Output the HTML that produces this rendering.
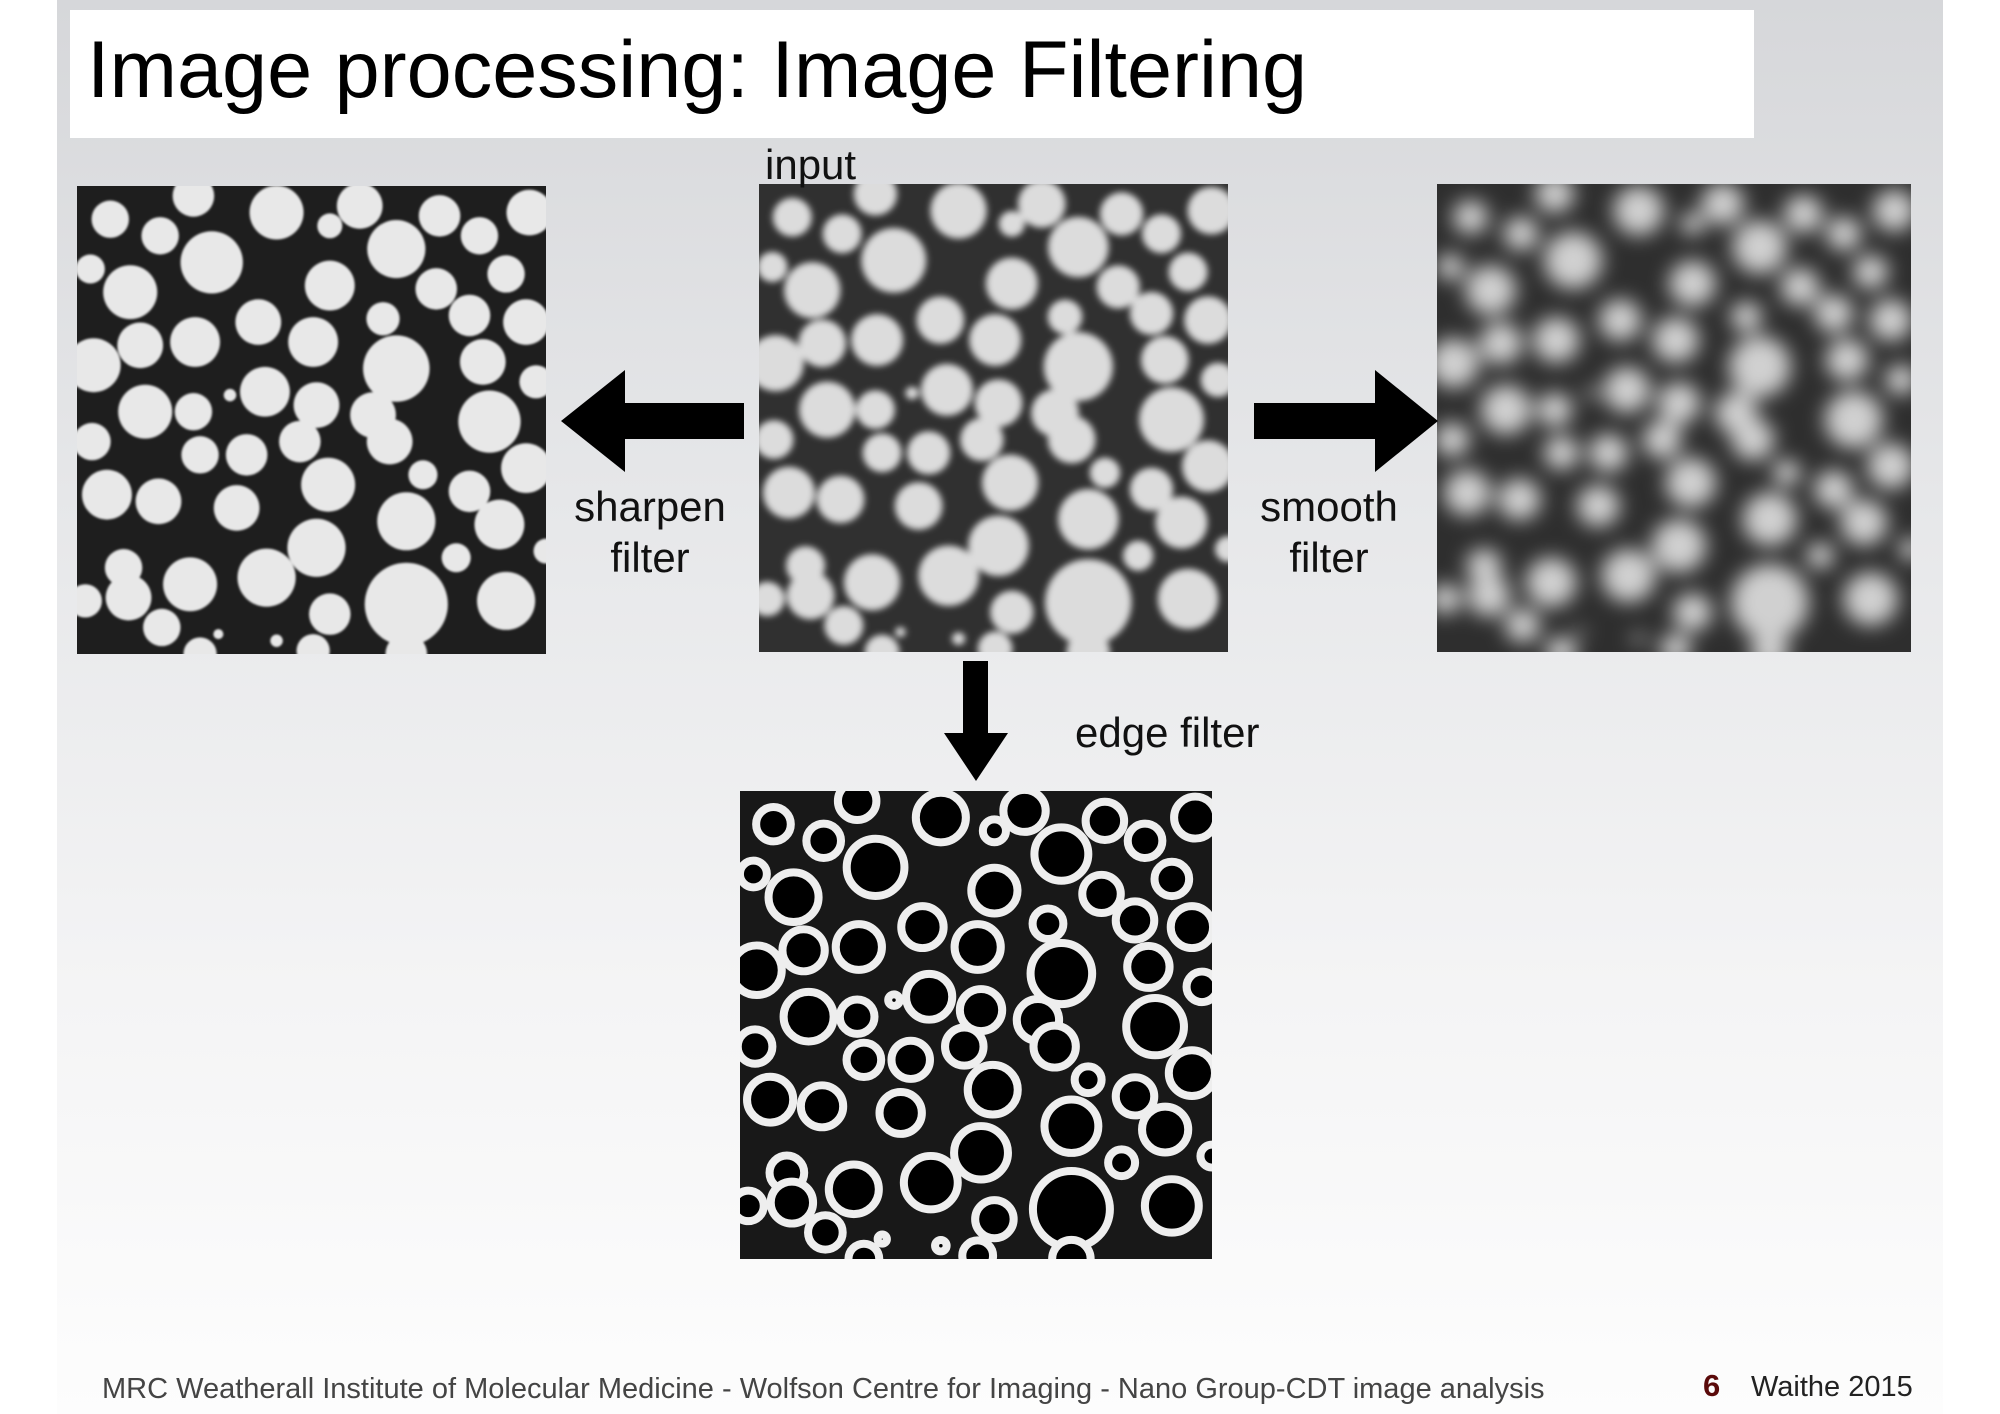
<!DOCTYPE html>
<html><head><meta charset="utf-8">
<style>
html,body{margin:0;padding:0;width:2000px;height:1414px;overflow:hidden;background:#fff;font-family:"Liberation Sans",sans-serif;}
#slide{position:absolute;left:57px;top:0;width:1886px;height:1414px;background:linear-gradient(#d6d7da 0%,#e6e7e9 35%,#f4f4f5 70%,#fdfdfd 100%);}
#title-box{position:absolute;left:70px;top:10px;width:1684px;height:128px;background:#fff;}
#title{position:absolute;left:87px;top:24px;font-size:81px;color:#000;white-space:nowrap;}
.lbl{position:absolute;font-size:42px;color:#111;white-space:nowrap;line-height:51px;}
svg.img{position:absolute;}
.foot{position:absolute;font-size:29px;color:#444;white-space:nowrap;}
</style></head><body>
<div id="slide"></div>
<div id="title-box"></div>
<div id="title">Image processing: Image Filtering</div>

<svg class="img" id="sharpen" style="left:77px;top:186px;width:469px;height:468px" viewBox="0 0 1410 1410" preserveAspectRatio="none"></svg>
<svg class="img" id="input" style="left:759px;top:184px;width:469px;height:468px" viewBox="0 0 1410 1410" preserveAspectRatio="none"></svg>
<svg class="img" id="smooth" style="left:1437px;top:184px;width:474px;height:468px" viewBox="0 0 1410 1410" preserveAspectRatio="none"></svg>
<svg class="img" id="edge" style="left:740px;top:791px;width:472px;height:468px" viewBox="0 0 1410 1410" preserveAspectRatio="none"></svg>

<svg style="position:absolute;left:0;top:0" width="2000" height="1414">
<polygon points="744,403 625,403 625,370 561,421 625,472 625,439 744,439" fill="#000"/>
<polygon points="1254,403 1375,403 1375,370 1438,421 1375,472 1375,439 1254,439" fill="#000"/>
<polygon points="963,661 988,661 988,733 1008,733 976,781 944,733 963,733" fill="#000"/>
</svg>

<div class="lbl" style="left:765px;top:139px">input</div>
<div class="lbl" style="left:550px;top:481px;width:200px;text-align:center">sharpen<br>filter</div>
<div class="lbl" style="left:1229px;top:481px;width:200px;text-align:center">smooth<br>filter</div>
<div class="lbl" style="left:1075px;top:707px">edge filter</div>

<div class="foot" style="left:102px;top:1373px">MRC Weatherall Institute of Molecular Medicine - Wolfson Centre for Imaging - Nano Group-CDT image analysis</div>
<div class="foot" style="left:1703px;top:1368px;font-size:31px;font-weight:bold;color:#5a0a0a">6</div>
<div class="foot" style="left:1751px;top:1371px;color:#222">Waithe 2015</div>

<script>
const blobX=[110,260,360,610,770,860,1100,1370,1220,50,170,415,770,970,1090,1300,60,200,365,555,720,930,1190,1360,970,1230,1390,215,360,470,575,730,680,900,950,1250,55,380,520,490,100,255,765,1050,1190,1360,1000,730,1280,1150,1420,150,165,350,580,35,770,1000,1300,265,435,610,720,1000,380];
const blobY=[110,160,40,90,130,70,100,90,160,260,330,240,310,200,320,275,550,490,480,420,480,410,400,420,560,540,600,690,690,640,630,670,780,700,780,720,780,820,820,980,940,960,910,880,930,860,1020,1100,1030,1130,1110,1160,1250,1210,1190,1260,1300,1270,1260,1340,1360,1380,1410,1420,1420];
const blobR=[45,45,50,65,30,55,50,55,45,35,65,75,60,70,50,45,65,55,60,55,60,40,50,55,80,55,40,65,45,15,60,55,50,55,55,75,45,45,50,55,60,55,65,35,50,60,70,70,60,35,30,45,55,65,70,40,50,100,70,45,12,15,40,50,40];
const NS='http://www.w3.org/2000/svg';
function build(id,bg,fill,opts){
  const s=document.getElementById(id);
  if(opts.blur){
    const d=document.createElementNS(NS,'defs');
    d.innerHTML='<filter id="bl'+id+'" x="-0.2" y="-0.2" width="1.4" height="1.4"><feGaussianBlur stdDeviation="'+opts.blur+'"/></filter>';
    s.appendChild(d);
  }
  const r=document.createElementNS(NS,'rect');
  r.setAttribute('width',1410);r.setAttribute('height',1410);r.setAttribute('fill',bg);
  s.appendChild(r);
  const g=document.createElementNS(NS,'g');
  if(opts.blur)g.setAttribute('filter','url(#bl'+id+')');
  s.appendChild(g);
  for(let i=0;i<blobX.length;i++){
    const c=document.createElementNS(NS,'circle');
    
    
    c.setAttribute('cx',blobX[i]-10);c.setAttribute('cy',blobY[i]-10);
    c.setAttribute('r',blobR[i]*(opts.scale||1));
    if(opts.ring){c.setAttribute('fill','#000');c.setAttribute('stroke','#eee');c.setAttribute('stroke-width',24);}
    else c.setAttribute('fill',fill);
    g.appendChild(c);
  }
}
build('input','#303030','#dcdcdc',{blur:10,scale:1.3});
build('sharpen','#1e1e1e','#e8e8e8',{blur:3,scale:1.25});
build('smooth','#2e2e2e','#d0d0d0',{blur:30,scale:1.15});
build('edge','#181818','',{ring:true,scale:1.15});
</script>
</body></html>
